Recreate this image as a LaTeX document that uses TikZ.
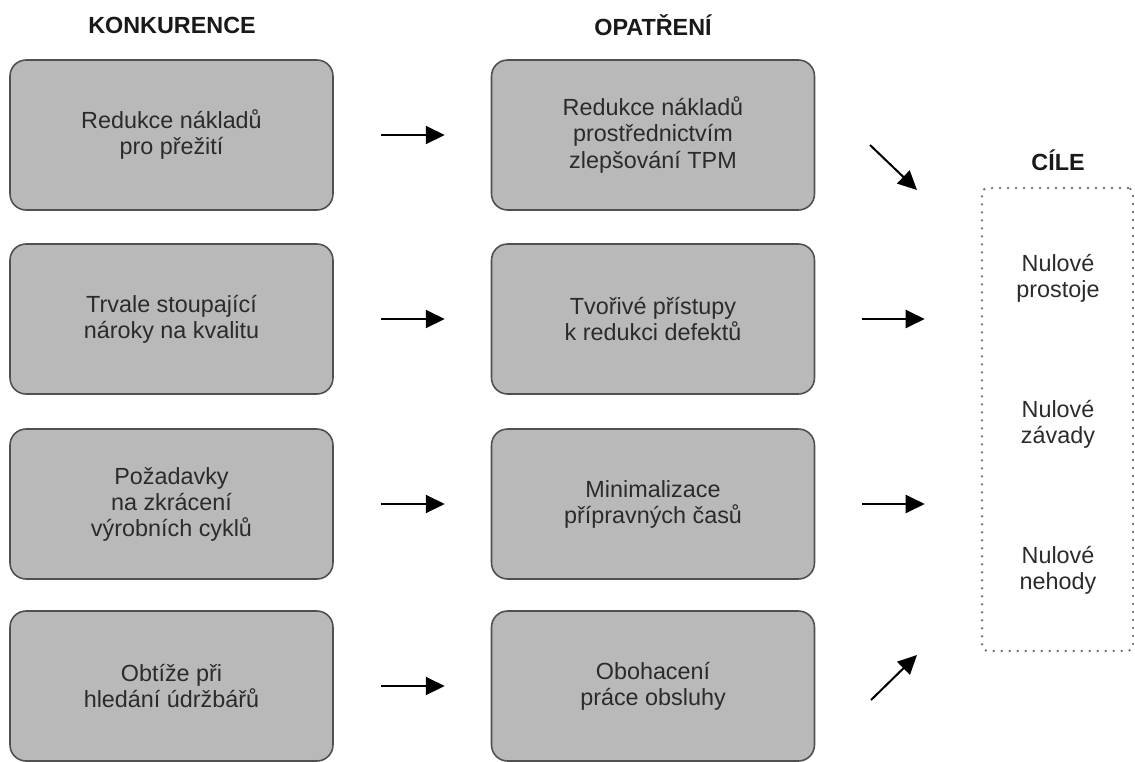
\documentclass[tikz,border=0pt]{standalone}
\usepackage{fontspec}
\setmainfont{Liberation Sans}
\usepackage{xcolor}
\usetikzlibrary{arrows.meta}

\definecolor{sedabox}{HTML}{B9B9B9}
\definecolor{okraj}{HTML}{505050}
\definecolor{textseda}{HTML}{2B2B2B}
\definecolor{tecky}{HTML}{707070}

\begin{document}
\begin{tikzpicture}[x=0.02cm, y=-0.02cm,
    blok/.style={draw=okraj, fill=sedabox, line width=0.9pt, rounded corners=0.32cm,
        minimum width=6.46cm, minimum height=3cm, inner sep=0pt, align=center,
        text=textseda, font=\fontsize{13.3}{14.8}\selectfont},
    nadpis/.style={font=\fontsize{13.3}{16}\selectfont\bfseries, text=black!90},
    cil/.style={align=center, text=textseda, font=\fontsize{13.3}{14.8}\selectfont},
    sipka/.style={-{Triangle[length=0.38cm, width=0.36cm]}, line width=1.15pt, black}]

    \useasboundingbox (0,0) rectangle (1135,761);

    % Nadpisy sloupců
    \node[nadpis] (hk) at (172,25) {KONKURENCE};
    \node[nadpis] (ho) at (653,25) {OPATŘENÍ};
    \node[nadpis] (hc) at (1058,160) {CÍLE};

    % Levý sloupec (konkurence)
    \node[blok] (k1) at (171.5,135) {Redukce nákladů\\pro přežití};
    \node[blok] (k2) at (171.5,319) {Trvale stoupající\\nároky na kvalitu};
    \node[blok] (k3) at (171.5,504) {Požadavky\\na zkrácení\\výrobních cyklů};
    \node[blok] (k4) at (171.5,686) {Obtíže při\\hledání údržbářů};

    % Prostřední sloupec (opatření)
    \node[blok] (o1) at (653,135) {Redukce nákladů\\prostřednictvím\\zlepšování TPM};
    \node[blok] (o2) at (653,319) {Tvořivé přístupy\\k redukci defektů};
    \node[blok] (o3) at (653,504) {Minimalizace\\přípravných časů};
    \node[blok] (o4) at (653,686) {Obohacení\\práce obsluhy};

    % Cíle (tečkovaný rámeček)
    \node[draw=tecky, dash pattern=on 0cm off 0.16cm, line width=1.5pt, line cap=round,
        rounded corners=0.1cm, minimum width=3.02cm, minimum height=9.26cm,
        inner sep=0pt] (cile) at (1057.5,419.5) {};
    \node[cil] (c1) at (1058,278) {Nulové\\prostoje};
    \node[cil] (c2) at (1058,424) {Nulové\\závady};
    \node[cil] (c3) at (1058,570) {Nulové\\nehody};

    % Šipky konkurence -> opatření
    \foreach \i in {1,...,4}
        \draw[sipka, shorten <=0.94cm, shorten >=0.92cm] (k\i) -- (o\i);

    % Šipky opatření -> cíle
    \draw[sipka, shorten <=0.94cm, shorten >=1.12cm] (o2.east) -- (o2.east -| cile.west);
    \draw[sipka, shorten <=0.94cm, shorten >=1.12cm] (o3.east) -- (o3.east -| cile.west);

    % Šikmé šipky (horní a dolní)
    \coordinate (s1) at (870,145);
    \coordinate (e1) at (917,190);
    \coordinate (s4) at (871,700);
    \coordinate (e4) at (917,655);
    \draw[sipka] (s1) -- (e1);
    \draw[sipka] (s4) -- (e4);

\end{tikzpicture}
\end{document}
